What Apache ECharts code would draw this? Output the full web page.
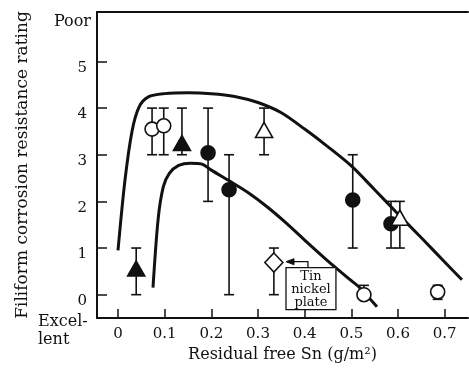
<!DOCTYPE html>
<html><head><meta charset="utf-8">
<script src="https://cdn.jsdelivr.net/npm/echarts@6/dist/echarts.min.js"></script>
<style>html,body{margin:0;padding:0;background:#fff}#c{width:469px;height:369px}</style>
</head><body><div id="c"></div>
<script>
// ---- data ----
const xTicks = [0, 0.1, 0.2, 0.3, 0.4, 0.5, 0.6, 0.7];
const yTicks = [0, 1, 2, 3, 4, 5];
const yTopLabel = 'Poor';
const yBottomLabel = 'Excel-\nlent';
const xTitle = 'Residual free Sn (g/m²)';
const yTitle = 'Filiform corrosion resistance rating';

const upperCurve = [[0,0.95],[0.015,2.46],[0.03,3.5],[0.045,4.02],[0.065,4.24],[0.1,4.31],[0.15,4.33],[0.2,4.31],[0.25,4.25],[0.3,4.12],[0.35,3.9],[0.4,3.55],[0.45,3.17],[0.5,2.76],[0.55,2.25],[0.6,1.73],[0.65,1.22],[0.7,0.7],[0.737,0.32]];
const lowerCurve = [[0.075,0.15],[0.086,1.62],[0.097,2.31],[0.11,2.6],[0.13,2.77],[0.155,2.82],[0.18,2.8],[0.2,2.67],[0.24,2.43],[0.28,2.18],[0.32,1.88],[0.36,1.54],[0.4,1.17],[0.45,0.72],[0.5,0.3],[0.518,0.15],[0.555,-0.26]];

// points: [x, y, errLow, errHigh]
const openCircles   = [[0.073,3.55,3,4],[0.098,3.62,3,4],[0.527,0.0,0.0,0.2],[0.685,0.06,-0.1,0.2]];
const filledCircles = [[0.193,3.04,2,4],[0.238,2.25,0,3],[0.503,2.03,1,3],[0.585,1.52,1,2]];
const filledTriangles = [[0.137,3.25,3,4],[0.039,0.56,0,1]];
const openTriangles = [[0.313,3.53,3,4],[0.604,1.65,1,2]];
const openDiamonds  = [[0.334,0.69,0,1]];
const noteText = 'Tin\nnickel\nplate';
// box left, box top, box right, box bottom, arrow x, arrow y, arrow tip x (data units)
const noteGeom = [0.36, 0.58, 0.467, -0.32, 0.407, 0.707, 0.36];

// ---- chart ----
const INK = '#111';
const FONT = 'DejaVu Serif';
const allPts = [].concat(openCircles, filledCircles, filledTriangles, openTriangles, openDiamonds);
const errData = allPts.map(p => [p[0], p[2], p[3]]);

function scatter(name, pts, symbol, size, fill) {
  return {
    type: 'scatter', name: name, z: 5,
    data: pts.map(p => [p[0], p[1]]),
    symbol: symbol, symbolSize: size,
    itemStyle: { color: fill, borderColor: INK, borderWidth: 1.6, opacity: 1 },
    emphasis: { disabled: true }, silent: true
  };
}
function curve(name, pts) {
  return {
    type: 'line', name: name, data: pts, smooth: 0.3,
    showSymbol: false, symbol: 'none', z: 4,
    lineStyle: { color: INK, width: 3 }, silent: true
  };
}

const chart = echarts.init(document.getElementById('c'), null, { renderer: 'canvas' });
chart.setOption({
  animation: false,
  backgroundColor: '#fff',
  grid: { left: 97, right: 1, top: 12, bottom: 51, containLabel: false },
  xAxis: [{
    type: 'value', min: -0.045, max: 0.75,
    name: xTitle, nameLocation: 'middle', nameGap: 28,
    nameTextStyle: { fontFamily: FONT, fontSize: 16, color: INK },
    axisLine: { show: true, onZero: false, lineStyle: { color: INK, width: 2 } },
    axisTick: { show: true, inside: true, length: 9, customValues: xTicks, lineStyle: { color: INK, width: 1.5 } },
    axisLabel: { customValues: xTicks, margin: 9, fontFamily: FONT, fontSize: 15, color: INK,
      formatter: v => (v === 0 ? '0' : v.toFixed(1)) },
    splitLine: { show: false }
  }, {
    type: 'value', position: 'top', min: -0.045, max: 0.75,
    axisLine: { show: true, onZero: false, lineStyle: { color: INK, width: 2 } },
    axisTick: { show: false }, axisLabel: { show: false }, splitLine: { show: false }
  }],
  yAxis: {
    type: 'value', min: -0.5, max: 6.06,
    name: yTitle, nameLocation: 'middle', nameGap: 66, nameRotate: 90,
    nameTextStyle: { fontFamily: FONT, fontSize: 17, color: INK },
    axisLine: { show: true, onZero: false, lineStyle: { color: INK, width: 2 } },
    axisTick: { show: true, inside: true, length: 10, customValues: yTicks, lineStyle: { color: INK, width: 1.5 } },
    axisLabel: { customValues: yTicks.concat([6]), margin: 10, fontFamily: FONT, fontSize: 15, color: INK,
      verticalAlign: 'top', lineHeight: 13,
      formatter: v => (v === 6 ? '{p|' + yTopLabel + '}' : String(v)),
      rich: { p: { fontFamily: FONT, fontSize: 16, color: INK, padding: [2, -4, 0, 0] } } },
    splitLine: { show: false }
  },
  graphic: [{
    type: 'text', left: 38, top: 313,
    style: { text: yBottomLabel, fontFamily: FONT, fontSize: 16, lineHeight: 18, fill: INK }
  }],
  series: [
    curve('upper', upperCurve),
    curve('lower', lowerCurve),
    {
      type: 'custom', name: 'error', data: errData, z: 3, silent: true,
      renderItem: function (params, api) {
        const x = api.value(0), lo = api.value(1), hi = api.value(2);
        const a = api.coord([x, lo]), b = api.coord([x, hi]);
        const c = 5, st = { stroke: INK, lineWidth: 1.6 };
        return { type: 'group', children: [
          { type: 'line', shape: { x1: a[0], y1: a[1], x2: b[0], y2: b[1] }, style: st },
          { type: 'line', shape: { x1: a[0] - c, y1: a[1], x2: a[0] + c, y2: a[1] }, style: st },
          { type: 'line', shape: { x1: b[0] - c, y1: b[1], x2: b[0] + c, y2: b[1] }, style: st }
        ]};
      }
    },
    scatter('open circle', openCircles, 'circle', 14, '#fff'),
    scatter('filled circle', filledCircles, 'circle', 14, INK),
    scatter('filled triangle', filledTriangles, 'triangle', [17, 15], INK),
    scatter('open triangle', openTriangles, 'triangle', [17, 15], '#fff'),
    scatter('open diamond', openDiamonds, 'diamond', [18, 19], '#fff'),
    {
      type: 'custom', name: 'note', data: [noteGeom], z: 6, silent: true,
      renderItem: function (params, api) {
        const tl = api.coord([api.value(0), api.value(1)]);
        const br = api.coord([api.value(2), api.value(3)]);
        const ar = api.coord([api.value(4), api.value(5)]);
        const tip = api.coord([api.value(6), api.value(5)]);
        const st = { stroke: INK, lineWidth: 1.3, fill: null };
        return { type: 'group', children: [
          { type: 'rect', shape: { x: tl[0], y: tl[1], width: br[0] - tl[0], height: br[1] - tl[1] },
            style: { stroke: INK, lineWidth: 1.3, fill: '#fff' } },
          { type: 'text', x: (tl[0] + br[0]) / 2, y: (tl[1] + br[1]) / 2 + 1,
            style: { text: noteText, fontFamily: FONT, fontSize: 13, lineHeight: 13, fill: INK,
              align: 'center', verticalAlign: 'middle' } },
          { type: 'polyline', shape: { points: [[ar[0], tl[1]], [ar[0], ar[1]], [tip[0] + 6, ar[1]]] }, style: st },
          { type: 'polygon', shape: { points: [[tip[0], ar[1]], [tip[0] + 8, ar[1] - 3], [tip[0] + 8, ar[1] + 3]] },
            style: { fill: INK, stroke: INK, lineWidth: 1 } }
        ]};
      }
    }
  ]
});
</script></body></html>
